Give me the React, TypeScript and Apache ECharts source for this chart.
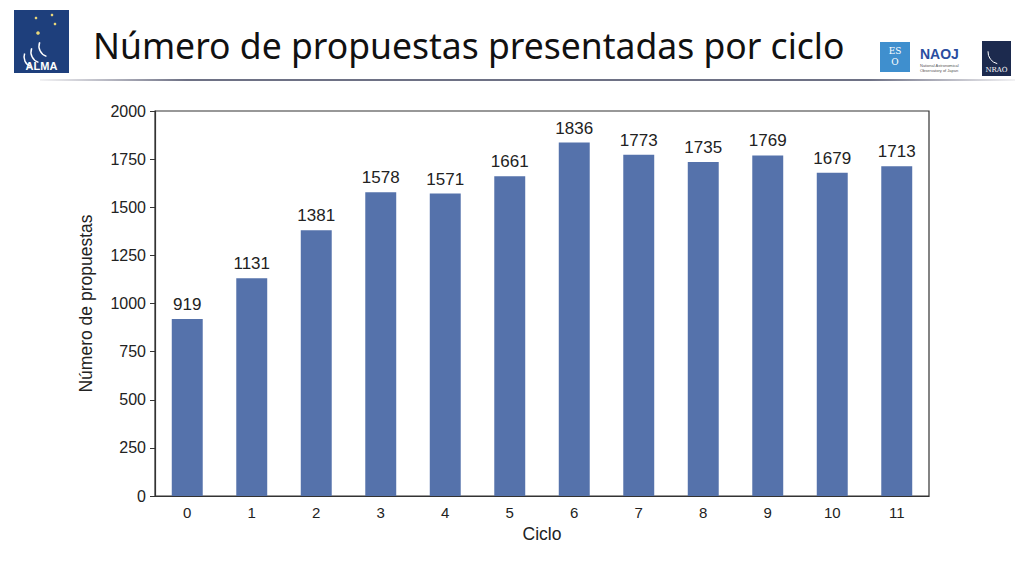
import React, { useEffect, useRef } from "react";
import * as echarts from "echarts";

const categories = ["0", "1", "2", "3", "4", "5", "6", "7", "8", "9", "10", "11"];
const proposals = [919, 1131, 1381, 1578, 1571, 1661, 1836, 1773, 1735, 1769, 1679, 1713];
const yTicks = [0, 250, 500, 750, 1000, 1250, 1500, 1750, 2000];

const titleText = "Número de propuestas presentadas por ciclo";

export default function App() {
  const ref = useRef<HTMLDivElement>(null);
  useEffect(() => {
    const chart = echarts.init(ref.current!, null, { renderer: "svg" });
    chart.setOption({
      animation: false,
      backgroundColor: "#ffffff",
      grid: {
        left: 155,
        top: 111,
        width: 774,
        height: 385,
        show: true,
        borderColor: "#333",
        borderWidth: 1.2,
      },
      xAxis: {
        type: "category",
        data: categories,
        name: "Ciclo",
        nameLocation: "middle",
        nameGap: 29,
        nameTextStyle: { fontFamily: "Liberation Sans", fontSize: 17.5, color: "#222" },
        axisLine: { lineStyle: { color: "#333", width: 1.2 } },
        axisTick: { alignWithLabel: true, length: 5, lineStyle: { color: "#333" } },
        axisLabel: { fontFamily: "Liberation Sans", fontSize: 15, color: "#222", margin: 9 },
      },
      yAxis: {
        type: "value",
        min: yTicks[0],
        max: yTicks[yTicks.length - 1],
        interval: 250,
        name: "Número de propuestas",
        nameLocation: "middle",
        nameGap: 60,
        nameTextStyle: { fontFamily: "Liberation Sans", fontSize: 17.5, color: "#222" },
        axisLine: { show: true, lineStyle: { color: "#333", width: 1.2 } },
        axisTick: { show: true, length: 5, lineStyle: { color: "#333" } },
        axisLabel: {
          fontFamily: "Liberation Sans",
          fontSize: 16,
          color: "#222",
          margin: 9,
          formatter: (v: number) => String(v),
        },
        splitLine: { show: false },
      },
      series: [
        {
          type: "bar",
          data: proposals,
          barWidth: "48%",
          itemStyle: { color: "#5572ab" },
          label: {
            show: true,
            position: "top",
            distance: 6,
            fontFamily: "Liberation Sans",
            fontSize: 17,
            color: "#222",
          },
        },
      ],
      graphic: [
        // ALMA logo
        { type: "rect", shape: { x: 14, y: 10, width: 55, height: 63 }, style: { fill: "#1e3f7c" } },
        { type: "circle", shape: { cx: 36, cy: 18, r: 1.3 }, style: { fill: "#e8d77a" } },
        { type: "circle", shape: { cx: 52, cy: 15, r: 1.3 }, style: { fill: "#e8d77a" } },
        { type: "circle", shape: { cx: 55, cy: 24, r: 1.3 }, style: { fill: "#e8d77a" } },
        { type: "circle", shape: { cx: 38, cy: 33, r: 1.8 }, style: { fill: "#e8d77a" } },
        { type: "arc", shape: { cx: 50, cy: 46, r: 11, startAngle: 1.9, endAngle: 3.5 }, style: { stroke: "#ffffff", lineWidth: 1.5, fill: null } },
        { type: "arc", shape: { cx: 42, cy: 52, r: 11, startAngle: 1.9, endAngle: 3.5 }, style: { stroke: "#ffffff", lineWidth: 1.5, fill: null } },
        { type: "arc", shape: { cx: 34, cy: 57, r: 10, startAngle: 1.9, endAngle: 3.5 }, style: { stroke: "#ffffff", lineWidth: 1.5, fill: null } },
        { type: "text", x: 41.5, y: 66, style: { text: "ALMA", fill: "#ffffff", fontFamily: "Liberation Sans", fontWeight: "bold", fontSize: 11, align: "center", verticalAlign: "middle" } },
        // title
        { type: "text", x: 93, y: 45, style: { text: titleText, fill: "#111", fontFamily: "Noto Sans", fontSize: 35.5, verticalAlign: "middle" } },
        // separator line
        {
          type: "rect",
          shape: { x: 40, y: 79, width: 975, height: 2 },
          style: {
            fill: new echarts.graphic.LinearGradient(0, 0, 1, 0, [
              { offset: 0, color: "rgba(120,120,140,0.1)" },
              { offset: 0.15, color: "#6e7185" },
              { offset: 0.85, color: "#6e7185" },
              { offset: 1, color: "rgba(120,120,140,0.1)" },
            ]),
          },
        },
        // ESO logo
        { type: "rect", shape: { x: 880, y: 42, width: 30, height: 30 }, style: { fill: "#3f8fce" } },
        { type: "text", x: 895, y: 51, style: { text: "ES", fill: "#ffffff", fontFamily: "DejaVu Serif", fontSize: 9, align: "center", verticalAlign: "middle" } },
        { type: "text", x: 895, y: 62, style: { text: "O", fill: "#ffffff", fontFamily: "DejaVu Serif", fontSize: 9, align: "center", verticalAlign: "middle" } },
        // NAOJ logo
        { type: "text", x: 920, y: 54, style: { text: "NAOJ", fill: "#2a4da0", fontFamily: "Liberation Sans", fontWeight: "bold", fontSize: 14, verticalAlign: "middle" } },
        { type: "text", x: 920, y: 65, style: { text: "National Astronomical", fill: "#555", fontFamily: "Liberation Sans", fontSize: 4, verticalAlign: "middle" } },
        { type: "text", x: 920, y: 70, style: { text: "Observatory of Japan", fill: "#555", fontFamily: "Liberation Sans", fontSize: 4, verticalAlign: "middle" } },
        // NRAO logo
        { type: "rect", shape: { x: 982, y: 41, width: 29, height: 35 }, style: { fill: "#1c2a4e" } },
        { type: "arc", shape: { cx: 1000, cy: 52, r: 12, startAngle: 1.8, endAngle: 3.2 }, style: { stroke: "#ffffff", lineWidth: 1, fill: null } },
        { type: "text", x: 996.5, y: 70, style: { text: "NRAO", fill: "#ffffff", fontFamily: "DejaVu Serif", fontSize: 7, align: "center", verticalAlign: "middle" } },
      ],
    });
    return () => chart.dispose();
  }, []);
  return <div ref={ref} style={{ width: 1024, height: 576, position: "absolute", left: 0, top: 0 }} />;
}
